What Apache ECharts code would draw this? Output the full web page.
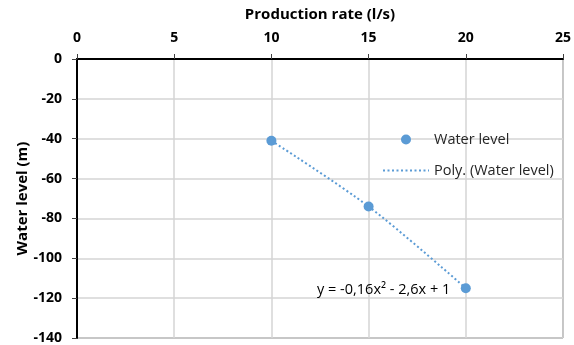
<!DOCTYPE html>
<html>
<head>
<meta charset="utf-8">
<script src="https://cdn.jsdelivr.net/npm/echarts@6/dist/echarts.min.js"></script>
<style>
html,body{margin:0;padding:0;background:#fff;}
#c{width:574px;height:345px;}
</style>
</head>
<body>
<div id="c"></div>
<script>
var productionRate = [10, 15, 20];
var waterLevel = [-41, -74, -115];
var xTicks = [0, 5, 10, 15, 20, 25];
var yTicks = [0, -20, -40, -60, -80, -100, -120, -140];
var equationText = 'y = -0,16x\u00B2 - 2,6x + 1';

var pts = productionRate.map(function (x, i) { return [x, waterLevel[i]]; });
var FONT = '"Open Sans", "Noto Sans", sans-serif';

var chart = echarts.init(document.getElementById('c'));
chart.setOption({
  animation: false,
  backgroundColor: '#fff',
  textStyle: { fontFamily: FONT },
  grid: {
    left: 77, top: 59, right: 11, bottom: 4,
    show: true, borderColor: '#404040', borderWidth: 1, backgroundColor: 'transparent'
  },
  legend: {
    orient: 'vertical',
    left: 382, top: 132, padding: 0,
    itemWidth: 46, itemHeight: 10, itemGap: 16,
    textStyle: { fontFamily: FONT, fontSize: 14.5, color: '#262626' },
    data: [
      { name: 'Water level' },
      { name: 'Poly. (Water level)', itemStyle: { opacity: 0 } }
    ]
  },
  xAxis: {
    type: 'value', position: 'top',
    min: xTicks[0], max: xTicks[xTicks.length - 1], interval: 5,
    name: 'Production rate (l/s)', nameLocation: 'middle', nameGap: 37,
    nameMoveOverlap: false,
    nameTextStyle: { fontFamily: FONT, fontSize: 15, fontWeight: 'bold', color: '#000' },
    axisLine: { show: true, onZero: false, lineStyle: { color: '#000', width: 2 } },
    axisTick: { show: true, length: 5, lineStyle: { color: '#404040' } },
    axisLabel: { fontFamily: FONT, fontSize: 14, fontWeight: 'bold', color: '#000', margin: 14 },
    splitLine: { show: true, lineStyle: { color: '#d4d4d4', width: 1.5 } }
  },
  yAxis: {
    type: 'value',
    min: yTicks[yTicks.length - 1], max: yTicks[0], interval: 20,
    name: 'Water level (m)', nameLocation: 'middle', nameGap: 47,
    nameMoveOverlap: false,
    nameTextStyle: { fontFamily: FONT, fontSize: 15, fontWeight: 'bold', color: '#000' },
    axisLine: { show: true, onZero: false, lineStyle: { color: '#000', width: 2 } },
    axisTick: { show: true, length: 5, lineStyle: { color: '#404040' } },
    axisLabel: { fontFamily: FONT, fontSize: 14, fontWeight: 'bold', color: '#000', margin: 15 },
    splitLine: { show: true, lineStyle: { color: '#d4d4d4', width: 1.5 } }
  },
  series: [
    {
      name: 'Poly. (Water level)',
      type: 'line',
      data: pts,
      smooth: 0.3,
      symbol: 'none',
      z: 2,
      lineStyle: { color: '#5b9bd5', width: 2, type: [2, 2.5] },
      itemStyle: { color: '#5b9bd5' }
    },
    {
      name: 'Water level',
      type: 'scatter',
      data: pts,
      symbol: 'circle',
      symbolSize: 10,
      z: 3,
      itemStyle: { color: '#5b9bd5', opacity: 1 }
    }
  ],
  graphic: [
    {
      type: 'text', left: 317, top: 282, z: 10,
      style: { text: equationText, fontFamily: FONT, fontSize: 14.5, fill: '#000' }
    }
  ]
});
</script>
</body>
</html>
